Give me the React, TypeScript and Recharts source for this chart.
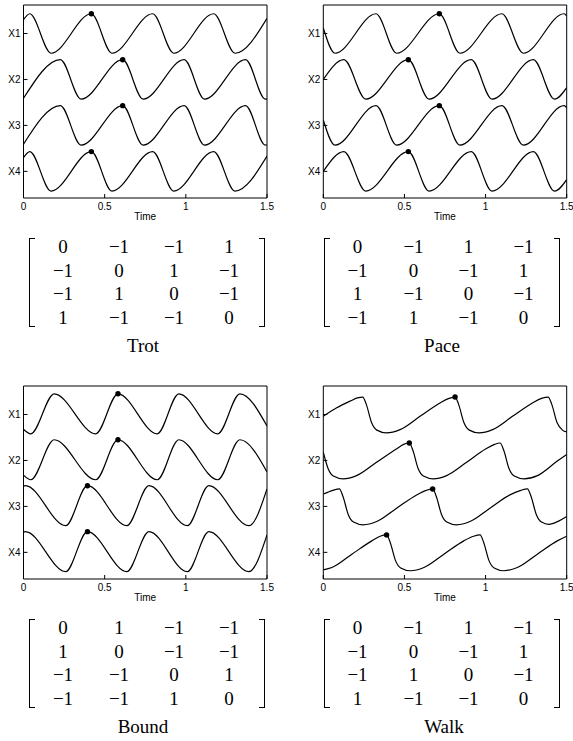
import { ComposedChart, Line, XAxis, YAxis, Label } from "recharts";

const TIME_TICKS = [0, 0.5, 1, 1.5];
const CHANNELS = ["X1", "X2", "X3", "X4"];
const LEVELS = [4, 3, 2, 1]; // X1 sits on top

// [time, offset from the channel line]
const trotX1 = [[0, 0.3], [0.039, 0.43], [0.17, -0.43], [0.418, 0.43], [0.545, -0.43], [0.796, 0.43], [0.926, -0.43], [1.172, 0.43], [1.303, -0.43], [1.5, 0.33]];
const trotX2 = [[0, -0.41], [0.227, 0.43], [0.355, -0.43], [0.611, 0.43], [0.737, -0.43], [0.99, 0.43], [1.115, -0.43], [1.368, 0.43], [1.49, -0.43], [1.5, -0.42]];
const trotX3 = trotX2;
const trotX4 = trotX1;
const trotDots = [0.418, 0.611, 0.611, 0.418];

const paceX1 = [[0, 0.12], [0.072, -0.43], [0.325, 0.43], [0.452, -0.43], [0.715, 0.43], [0.842, -0.43], [1.101, 0.43], [1.233, -0.43], [1.484, 0.43], [1.5, 0.38]];
const paceX2 = [[0, 0], [0.127, 0.43], [0.262, -0.43], [0.524, 0.43], [0.652, -0.43], [0.912, 0.43], [1.04, -0.43], [1.295, 0.43], [1.425, -0.43], [1.5, -0.18]];
const paceX3 = paceX1;
const paceX4 = paceX2;
const paceDots = [0.715, 0.524, 0.715, 0.524];

const boundX1 = [[0, -0.32], [0.045, -0.42], [0.189, 0.45], [0.445, -0.42], [0.582, 0.45], [0.824, -0.42], [0.957, 0.45], [1.197, -0.42], [1.333, 0.45], [1.5, -0.25]];
const boundX2 = boundX1;
const boundX3 = [[0, 0.44], [0.012, 0.45], [0.26, -0.42], [0.394, 0.45], [0.636, -0.42], [0.773, 0.45], [1.009, -0.42], [1.142, 0.45], [1.388, -0.42], [1.5, 0.38]];
const boundX4 = boundX3;
const boundDots = [0.582, 0.582, 0.394, 0.394];

const walkX1 = [[0, -0.04], [0.08, 0.14], [0.165, 0.29], [0.21, 0.36], [0.243, 0.38], [0.265, 0.22], [0.298, -0.18], [0.33, -0.34], [0.39, -0.4], [0.473, -0.33], [0.596, -0.04], [0.719, 0.25], [0.775, 0.35], [0.812, 0.38], [0.834, 0.22], [0.867, -0.18], [0.9, -0.34], [0.96, -0.4], [1.043, -0.33], [1.166, -0.04], [1.289, 0.25], [1.345, 0.35], [1.386, 0.38], [1.408, 0.22], [1.441, -0.18], [1.474, -0.34], [1.5, -0.38]];
const walkX2 = [[0, 0.18], [0.03, -0.18], [0.062, -0.34], [0.122, -0.4], [0.205, -0.33], [0.328, -0.04], [0.45, 0.25], [0.495, 0.35], [0.53, 0.38], [0.552, 0.22], [0.585, -0.18], [0.617, -0.34], [0.677, -0.4], [0.76, -0.33], [0.883, -0.04], [1.0, 0.25], [1.055, 0.35], [1.09, 0.38], [1.112, 0.22], [1.145, -0.18], [1.177, -0.34], [1.237, -0.4], [1.32, -0.33], [1.44, -0.02], [1.5, 0.13]];
const walkX3 = [[0, 0.27], [0.06, 0.35], [0.099, 0.38], [0.121, 0.22], [0.154, -0.18], [0.186, -0.34], [0.246, -0.4], [0.329, -0.33], [0.452, -0.04], [0.575, 0.25], [0.635, 0.35], [0.674, 0.38], [0.696, 0.22], [0.729, -0.18], [0.761, -0.34], [0.821, -0.4], [0.904, -0.33], [1.027, -0.04], [1.15, 0.25], [1.218, 0.35], [1.258, 0.38], [1.28, 0.22], [1.313, -0.18], [1.345, -0.34], [1.39, -0.39], [1.45, -0.32], [1.5, -0.22]];
const walkX4 = [[0, -0.38], [0.053, -0.33], [0.176, -0.04], [0.299, 0.25], [0.35, 0.35], [0.39, 0.38], [0.412, 0.22], [0.445, -0.18], [0.477, -0.34], [0.537, -0.4], [0.62, -0.33], [0.743, -0.04], [0.866, 0.25], [0.926, 0.35], [0.966, 0.38], [0.988, 0.22], [1.021, -0.18], [1.053, -0.34], [1.113, -0.4], [1.196, -0.33], [1.319, -0.04], [1.442, 0.25], [1.5, 0.35]];
const walkDots = [0.812, 0.53, 0.674, 0.39];

const trotMatrix = [[0, -1, -1, 1], [-1, 0, 1, -1], [-1, 1, 0, -1], [1, -1, -1, 0]];
const paceMatrix = [[0, -1, 1, -1], [-1, 0, -1, 1], [1, -1, 0, -1], [-1, 1, -1, 0]];
const boundMatrix = [[0, 1, -1, -1], [1, 0, -1, -1], [-1, -1, 0, 1], [-1, -1, 1, 0]];
const walkMatrix = [[0, -1, 1, -1], [-1, 0, -1, 1], [-1, 1, 0, -1], [1, -1, -1, 0]];

const SANS = "'Liberation Sans', Arial, sans-serif";
const SERIF = "'Liberation Serif', 'Times New Roman', serif";
const tickStyle = { fontSize: 10, fill: "#000", fontFamily: SANS };

const peakDot = (props: any) => {
  const { cx, cy, payload, index } = props;
  if (!payload.mark) return <g key={index} />;
  return <circle key={index} cx={cx} cy={cy} r={2.7} fill="#000" />;
};

function GaitPanel({ traces, dots, left, top, width, axisWidth, rightPad }: any) {
  return (
    <div style={{ position: "absolute", left, top }}>
      <ComposedChart width={width} height={230} margin={{ top: 4, right: rightPad, bottom: 0, left: 0 }}>
        <XAxis
          dataKey="t"
          type="number"
          domain={[0, 1.5]}
          ticks={TIME_TICKS}
          allowDataOverflow
          height={32}
          tick={tickStyle}
          tickSize={-4}
          tickMargin={9}
          stroke="#000"
        >
          <Label value="Time" position="insideBottom" offset={10.5} style={{ fontSize: 10, fill: "#000", fontFamily: SANS }} />
        </XAxis>
        <XAxis
          xAxisId="top"
          orientation="top"
          type="number"
          domain={[0, 1.5]}
          ticks={TIME_TICKS}
          allowDataOverflow
          height={1}
          tick={false}
          tickSize={-4}
          stroke="#000"
        />
        <YAxis
          dataKey="y"
          type="number"
          domain={[0.42, 4.62]}
          ticks={[1, 2, 3, 4]}
          allowDataOverflow
          width={axisWidth}
          tick={tickStyle}
          tickFormatter={(v) => CHANNELS[4 - v]}
          tickSize={-4}
          tickMargin={7}
          stroke="#000"
        />
        <YAxis
          yAxisId="right"
          orientation="right"
          type="number"
          domain={[0.42, 4.62]}
          ticks={[1, 2, 3, 4]}
          allowDataOverflow
          width={1}
          tick={false}
          tickSize={-4}
          stroke="#000"
        />
        {traces.map((trace: number[][], i: number) => (
          <Line
            key={CHANNELS[i]}
            data={trace.map(([t, v]) => ({ t, y: LEVELS[i] + v, mark: t === dots[i] }))}
            dataKey="y"
            type="monotone"
            stroke="#000"
            strokeWidth={1.2}
            dot={peakDot}
            activeDot={false}
            isAnimationActive={false}
          />
        ))}
      </ComposedChart>
    </div>
  );
}

const COLS = [34, 90, 145, 200];
const ROWS = [8.5, 32, 55.5, 79.5];

function Bracket({ x, top, side }: any) {
  return (
    <div
      style={{
        position: "absolute",
        left: side === "left" ? x : x - 6,
        top,
        width: 6,
        height: 89,
        boxSizing: "border-box",
        borderTop: "1.4px solid #000",
        borderBottom: "1.4px solid #000",
        [side === "left" ? "borderLeft" : "borderRight"]: "1.5px solid #000",
      }}
    />
  );
}

function Matrix({ rows, left, top, name, nameX }: any) {
  return (
    <>
      <Bracket x={left} top={top} side="left" />
      <Bracket x={left + 236} top={top} side="right" />
      {rows.map((row: number[], r: number) =>
        row.map((v, c) => (
          <span
            key={`${r}-${c}`}
            style={{
              position: "absolute",
              left: left + COLS[c],
              top: top + ROWS[r],
              transform: "translate(-50%, -50%)",
              fontFamily: SERIF,
              fontSize: 19,
              lineHeight: 1,
              whiteSpace: "nowrap",
            }}
          >
            {v < 0 ? `\u2212${Math.abs(v)}` : String(v)}
          </span>
        ))
      )}
      <span
        style={{
          position: "absolute",
          left: nameX,
          top: top + 107.5,
          transform: "translate(-50%, -50%)",
          fontFamily: SERIF,
          fontSize: 19,
          lineHeight: 1,
        }}
      >
        {name}
      </span>
    </>
  );
}

export default function App() {
  return (
    <div style={{ position: "absolute", left: 0, top: 0, width: 573, height: 741, background: "#fff", overflow: "hidden" }}>
      <GaitPanel traces={[trotX1, trotX2, trotX3, trotX4]} dots={trotDots} left={0} top={0} width={290} axisWidth={23.5} rightPad={22} />
      <GaitPanel traces={[paceX1, paceX2, paceX3, paceX4]} dots={paceDots} left={290} top={0} width={283} axisWidth={33.3} rightPad={5.3} />
      <GaitPanel traces={[boundX1, boundX2, boundX3, boundX4]} dots={boundDots} left={0} top={381} width={290} axisWidth={23.5} rightPad={22} />
      <GaitPanel traces={[walkX1, walkX2, walkX3, walkX4]} dots={walkDots} left={290} top={381} width={283} axisWidth={33.3} rightPad={5.3} />
      <Matrix rows={trotMatrix} left={29} top={237.5} name="Trot" nameX={143} />
      <Matrix rows={paceMatrix} left={323.5} top={237.5} name="Pace" nameX={442} />
      <Matrix rows={boundMatrix} left={29} top={618.5} name="Bound" nameX={143} />
      <Matrix rows={walkMatrix} left={323.5} top={618.5} name="Walk" nameX={444} />
    </div>
  );
}
